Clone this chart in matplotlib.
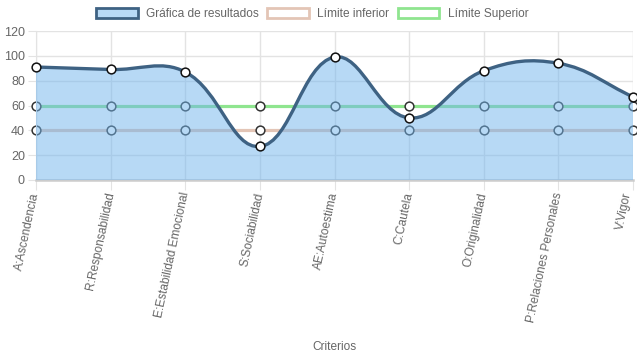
import numpy as np
import matplotlib
matplotlib.use("Agg")
import matplotlib.pyplot as plt
from matplotlib.path import Path
from matplotlib.patches import PathPatch, Patch

plt.rcParams['font.family'] = ['Liberation Sans', 'DejaVu Sans']

# data
criterios = ["A:Ascendencia", "R:Responsabilidad", "E:Estabilidad Emocional",
             "S:Sociabilidad", "AE:Autoestima", "C:Cautela", "O:Originalidad",
             "P:Relaciones Personales", "V:Vigor"]
resultados = [91, 89, 87, 27, 99, 50, 88, 94, 67]
limite_inferior = [40, 40, 40, 40, 40, 40, 40, 40, 40]
limite_superior = [60, 60, 60, 60, 60, 60, 60, 60, 60]

c_main = "#3e6283"
c_fill = (113/255, 181/255, 237/255, 0.5)
c_inf = "#e3c5b6"
c_sup = "#8fe58f"
c_text = "#666666"
c_grid = "#e3e3e3"

W, H = 637, 359
fig = plt.figure(figsize=(W/100, H/100), dpi=100)
ax = fig.add_axes([36/W, 1 - 180/H, (633-36)/W, (180-31)/H])
x = np.arange(len(criterios))
ax.set_xlim(0, len(criterios) - 1)
ax.set_ylim(0, 120)


def chartjs_spline(ax, xs, ys, t=0.4):
    # bezier control points the way Chart.js computes them (pixel space)
    pts = ax.transData.transform(np.column_stack([xs, ys]))
    bb = ax.bbox
    n = len(pts)
    cp_prev, cp_next = [], []
    for i in range(n):
        cur = pts[i]
        prev = pts[i-1] if i > 0 else cur
        nxt = pts[i+1] if i < n-1 else cur
        d01 = np.hypot(*(cur - prev))
        d12 = np.hypot(*(nxt - cur))
        tot = d01 + d12
        s01 = d01/tot if tot else 0
        s12 = d12/tot if tot else 0
        cp_prev.append(cur - t*s01*(nxt - prev))
        cp_next.append(cur + t*s12*(nxt - prev))
    clamp = lambda p: np.array([min(max(p[0], bb.x0), bb.x1), min(max(p[1], bb.y0), bb.y1)])
    verts = [pts[0]]
    codes = [Path.MOVETO]
    for i in range(n-1):
        verts += [clamp(cp_next[i]), clamp(cp_prev[i+1]), pts[i+1]]
        codes += [Path.CURVE4]*3
    verts = ax.transData.inverted().transform(np.array(verts))
    return verts, codes


fig.canvas.draw()
verts, codes = chartjs_spline(ax, x, resultados)

# limit lines (drawn underneath the filled dataset)
ax.plot(x, limite_inferior, color=c_inf, lw=2.3, zorder=2, clip_on=False)
ax.plot(x, limite_inferior, 'o', ms=6.3, mfc='white', mec='#333333', mew=1.1, zorder=2.5, clip_on=False)
ax.plot(x, limite_superior, color=c_sup, lw=2.3, zorder=2, clip_on=False)
ax.plot(x, limite_superior, 'o', ms=6.3, mfc='white', mec='#333333', mew=1.1, zorder=2.5, clip_on=False)

# filled area under resultados
fverts = np.vstack([verts, [[x[-1], 0], [x[0], 0], [x[0], resultados[0]]]])
fcodes = codes + [Path.LINETO, Path.LINETO, Path.CLOSEPOLY]
ax.add_patch(PathPatch(Path(fverts, fcodes), facecolor=c_fill, edgecolor='none', zorder=3))
ax.add_patch(PathPatch(Path(verts, codes), facecolor='none', edgecolor=c_main, lw=2.4,
                       zorder=4, capstyle='round', clip_on=False))
ax.plot(x, resultados, 'o', ms=6.3, mfc='white', mec='#111111', mew=1.1, zorder=5, clip_on=False)

# axes, grid, ticks
ax.set_yticks(range(0, 121, 20))
ax.set_xticks(x)
ax.set_xticklabels(criterios[:-1] + [""], rotation=78, ha='right', va='center',
                   rotation_mode='anchor')
# last label drawn by hand, nudged left so it stays on the canvas
ax.annotate(criterios[-1], xy=(x[-1], 0), xycoords='data', xytext=(-3.5, -9),
            textcoords='offset points', rotation=78, ha='right', va='center',
            rotation_mode='anchor', fontsize=8.6, color=c_text, annotation_clip=False)
ax.grid(True, color=c_grid, lw=1, zorder=0.5)
ax.set_axisbelow(True)
for s in ['top', 'right']:
    ax.spines[s].set_visible(False)
ax.spines['left'].set_color(c_grid)
ax.spines['bottom'].set_color('#cccccc')
ax.spines['bottom'].set_linewidth(1.8)
ax.tick_params(axis='y', length=6, color=c_grid, pad=2, labelsize=9, labelcolor=c_text)
ax.tick_params(axis='x', length=7, color=c_grid, pad=2, labelsize=8.6, labelcolor=c_text)

fig.text(334/W, 1 - 347/H, "Criterios", ha='center', va='center', fontsize=8.6, color=c_text)

handles = [Patch(facecolor='#b8daf6', edgecolor=c_main, lw=2),
           Patch(facecolor='white', edgecolor=c_inf, lw=2),
           Patch(facecolor='white', edgecolor=c_sup, lw=2)]
fig.legend(handles, ["Gráfica de resultados", "Límite inferior", "Límite Superior"],
           loc='center', bbox_to_anchor=(312/W, 1 - 14/H), ncol=3, frameon=False,
           fontsize=8.6, labelcolor=c_text, handlelength=3.5, handleheight=0.9,
           handletextpad=0.7, columnspacing=0.7, borderpad=0)

fig.savefig("out.png", dpi=100)
